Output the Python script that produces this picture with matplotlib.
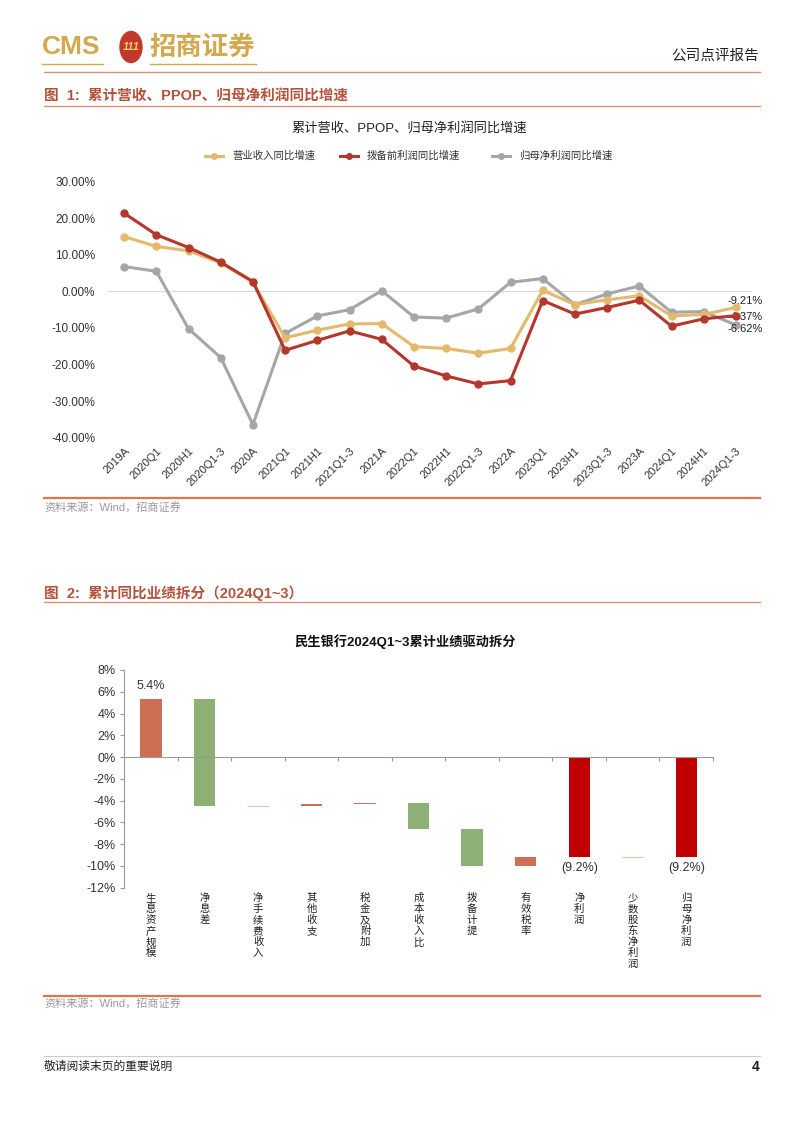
import matplotlib
matplotlib.use("Agg")
import matplotlib.pyplot as plt
from matplotlib.patches import Circle
import matplotlib.transforms as mtransforms

plt.rcParams['font.family'] = ['Liberation Sans', 'Noto Sans CJK SC', 'DejaVu Sans']

# ---------------- data: chart 1 ----------------
periods = ["2019A", "2020Q1", "2020H1", "2020Q1-3", "2020A", "2021Q1", "2021H1", "2021Q1-3",
           "2021A", "2022Q1", "2022H1", "2022Q1-3", "2022A", "2023Q1", "2023H1", "2023Q1-3",
           "2023A", "2024Q1", "2024H1", "2024Q1-3"]
revenue_yoy = [15.0, 12.3, 11.1, 7.8, 2.5, -12.7, -10.6, -8.9, -8.8, -15.1, -15.6, -16.9,
               -15.6, 0.3, -3.6, -2.3, -1.2, -6.7, -6.3, -4.37]
ppop_yoy = [21.4, 15.5, 12.0, 8.0, 2.7, -16.1, -13.4, -10.8, -13.1, -20.4, -23.1, -25.3,
            -24.4, -2.5, -6.2, -4.4, -2.4, -9.5, -7.5, -6.62]
netprofit_yoy = [6.8, 5.5, -10.2, -18.1, -36.4, -11.5, -6.7, -5.0, 0.2, -7.0, -7.3, -4.8,
                 2.5, 3.5, -3.6, -0.7, 1.5, -5.7, -5.5, -9.21]
series_names = ["营业收入同比增速", "拨备前利润同比增速", "归母净利润同比增速"]
y1_ticks = [30, 20, 10, 0, -10, -20, -30, -40]

# ---------------- data: chart 2 (waterfall) ----------------
factors = ["生息资产规模", "净息差", "净手续费收入", "其他收支", "税金及附加", "成本收入比",
           "拨备计提", "有效税率", "净利润", "少数股东净利润", "归母净利润"]
bar_start = [0.0, 5.35, -4.47, -4.47, -4.31, -4.23, -6.62, -10.05, 0.0, -9.18, 0.0]
bar_end = [5.35, -4.47, -4.50, -4.31, -4.23, -6.62, -10.05, -9.22, -9.22, -9.22, -9.22]
bar_kind = ["up", "down", "tiny", "up", "up", "down", "down", "up", "total", "tiny2", "total"]
y2_ticks = [8, 6, 4, 2, 0, -2, -4, -6, -8, -10, -12]

W, H = 802, 1133
fig = plt.figure(figsize=(W / 100, H / 100), dpi=100)


def fx(x):
    return x / W


def fy(y):
    return 1 - y / H


def hline(y, x0=44, x1=760, color="#D9907C", lw=1.0):
    fig.add_artist(plt.Line2D([fx(x0), fx(x1)], [fy(y), fy(y)], color=color, lw=lw))


cjk = ['Noto Sans CJK SC', 'DejaVu Sans']
gold = "#D2A94E"
title_red = "#B5523B"

# ---------------- header ----------------
fig.text(fx(42), fy(47), "CMS", fontsize=19, color=gold, fontweight="bold", va="center", ha="left",
         family=['Liberation Sans'])
fig.add_artist(Circle((fx(131), fy(47)), 11 / W, transform=fig.transFigure, color="#C0392B", zorder=3))
fig.text(fx(131), fy(47), "111", fontsize=8, color="#F3C96A", fontweight="bold", ha="center",
         va="center", style="italic", zorder=4)
fig.text(fx(149), fy(47), "招商证券", fontsize=19, color=gold, fontweight="bold", va="center",
         ha="left", family=cjk)
hline(64, 42, 103, color=gold, lw=1.0)
hline(64, 150, 256, color=gold, lw=1.0)
fig.text(fx(759), fy(56), "公司点评报告", fontsize=10.5, color="#222222", ha="right", va="center",
         family=cjk)
hline(72, color="#D9907C", lw=1.0)

# ---------------- figure 1 heading ----------------
fig.text(fx(44), fy(97), "图  1:  累计营收、PPOP、归母净利润同比增速", fontsize=10.5,
         color=title_red, ha="left", va="center", fontweight="bold")
hline(106, color="#D9907C", lw=1.0)

fig.text(fx(409), fy(128), "累计营收、PPOP、归母净利润同比增速", fontsize=9.5, color="#222222",
         ha="center", va="center")

colors1 = ["#E5B96B", "#B5362B", "#A6A6A6"]

# legend (manual)
leg_x = [205, 340, 492]
for lx, c, name in zip(leg_x, colors1, series_names):
    fig.add_artist(plt.Line2D([fx(lx), fx(lx + 18)], [fy(156), fy(156)], color=c, lw=2.2))
    fig.add_artist(plt.Line2D([fx(lx + 9)], [fy(156)], color=c, marker="o", markersize=4))
    fig.text(fx(lx + 27), fy(156), name, fontsize=7.5, color="#333333", ha="left", va="center")

ax1 = fig.add_axes([fx(108), fy(437.7), (752 - 108) / W, (437.7 - 181.7) / H])
xs = list(range(len(periods)))
ax1.plot(xs, netprofit_yoy, color=colors1[2], lw=2.2, marker="o", markersize=5, zorder=3)
ax1.plot(xs, revenue_yoy, color=colors1[0], lw=2.2, marker="o", markersize=5, zorder=4)
ax1.plot(xs, ppop_yoy, color=colors1[1], lw=2.2, marker="o", markersize=5, zorder=5)
ax1.axhline(0, color="#D9D9D9", lw=0.8, zorder=1)
ax1.set_xlim(-0.5, len(periods) - 0.5)
ax1.set_ylim(-40, 30)
ax1.set_yticks(y1_ticks)
ax1.set_yticklabels([f"{v:.2f}%" for v in y1_ticks], fontsize=8.5, color="#333333")
ax1.set_xticks(xs)
ax1.set_xticklabels(periods, rotation=45, ha="right", rotation_mode="anchor", fontsize=8,
                    color="#333333")
ax1.tick_params(axis="y", length=0, pad=9)
ax1.tick_params(axis="x", length=0, pad=6)
for s in ax1.spines.values():
    s.set_visible(False)
ax1.patch.set_alpha(0)

# end labels (as in the reference)
last = len(periods) - 1
end_labels = [(netprofit_yoy[-1], -2.5), (revenue_yoy[-1], -7.1), (ppop_yoy[-1], -10.2)]
for val, ypos in end_labels:
    ax1.text(last - 0.25, ypos, f"{val:.2f}%", fontsize=8, color="#222222", ha="left",
             va="center", clip_on=False)

hline(498, color="#E0754F", lw=1.6)
fig.text(fx(44), fy(507), "资料来源：Wind，招商证券", fontsize=8, color="#9A9A9A", ha="left",
         va="center")

# ---------------- figure 2 heading ----------------
fig.text(fx(44), fy(593), "图  2:  累计同比业绩拆分（2024Q1~3）", fontsize=10.5, color=title_red,
         ha="left", va="center", fontweight="bold")
hline(602, color="#D9907C", lw=1.0)
fig.text(fx(405), fy(642), "民生银行2024Q1~3累计业绩驱动拆分", fontsize=9.5, color="#111111",
         ha="center", va="center", fontweight="bold")

ax2 = fig.add_axes([fx(124.3), fy(887.7), (713 - 124.3) / W, (887.7 - 670) / H])
kind_color = {"up": "#CD6F55", "down": "#8DB174", "total": "#C00000", "tiny": "#E9BDB1",
              "tiny2": "#E3C2A6"}
pos = list(range(len(factors)))
for i, (s, e, k) in enumerate(zip(bar_start, bar_end, bar_kind)):
    lo, hi = min(s, e), max(s, e)
    thin = k.startswith("tiny")
    ax2.bar(i, hi - lo, bottom=lo, width=0.4, color=kind_color[k], zorder=3,
            edgecolor=kind_color[k] if thin else "none", linewidth=0.8 if thin else 0)
ax2.set_xlim(-0.5, len(factors) - 0.5)
ax2.set_ylim(-12, 8)
ax2.set_yticks(y2_ticks)
ax2.set_yticklabels([f"{v}%" for v in y2_ticks], fontsize=9, color="#333333")
ax2.spines["top"].set_visible(False)
ax2.spines["right"].set_visible(False)
ax2.spines["left"].set_color("#999999")
ax2.spines["bottom"].set_position(("data", 0))
ax2.spines["bottom"].set_color("#999999")
ax2.spines["bottom"].set_zorder(4)
ax2.set_xticks([p + 0.5 for p in pos])
ax2.set_xticklabels([])
ax2.tick_params(axis="x", length=3, color="#999999", direction="out")
ax2.tick_params(axis="y", length=3, color="#999999", pad=3)
ax2.patch.set_alpha(0)

# value labels
ax2.text(0, bar_end[0] + 0.6, "5.4%", ha="center", va="bottom", fontsize=9, color="#333333")
for i in (8, 10):
    ax2.text(i, bar_end[i] - 0.45, f"({abs(bar_end[i]):.1f}%)", ha="center", va="top",
             fontsize=9, color="#333333")

# vertical category labels
trans = mtransforms.blended_transform_factory(ax2.transData, fig.transFigure)
for i, name in enumerate(factors):
    ax2.text(i, fy(893), "\n".join(name), transform=trans, ha="center", va="top", fontsize=7.5,
             color="#222222", linespacing=1.12, family=cjk)

hline(996, color="#E0754F", lw=1.6)
fig.text(fx(44), fy(1003), "资料来源：Wind，招商证券", fontsize=8, color="#9A9A9A", ha="left",
         va="center")

# ---------------- footer ----------------
hline(1056, color="#CCCCCC", lw=0.8)
fig.text(fx(44), fy(1067), "敬请阅读末页的重要说明", fontsize=8.5, color="#222222", ha="left",
         va="center")
fig.text(fx(759), fy(1067), "4", fontsize=10, color="#222222", ha="right", va="center",
         fontweight="bold")

fig.savefig("out.png", dpi=100)
